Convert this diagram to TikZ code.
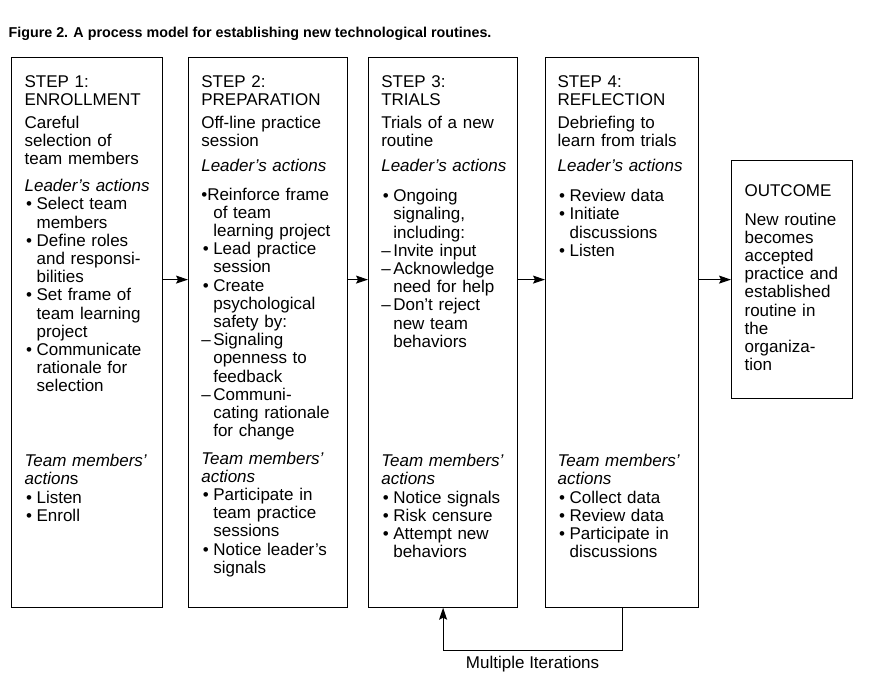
\documentclass[tikz,border=0pt]{standalone}
\usepackage{fontspec}
\setmainfont{Liberation Sans}
\usetikzlibrary{arrows.meta}

\newcommand{\bul}{\makebox[12pt][l]{\hspace{1.5pt}\textbullet}}
\newcommand{\dsh}{\makebox[12pt][l]{\textendash}}
\newcommand{\ind}{\hspace*{12pt}}

\begin{document}
\begin{tikzpicture}[x=1pt, y=-1pt, line width=1.2pt,
  every node/.style={font=\fontsize{17}{18.2}\selectfont, inner sep=0pt},
  stepbox/.style={draw, anchor=north west, minimum height=549.5pt},
  txt/.style={anchor=base west, align=left, text width=#1},
  arr/.style={-{Stealth[length=12pt,width=8pt,inset=2pt]}}]
  \useasboundingbox (0,0) rectangle (887,681);

  \node[anchor=base west, font=\bfseries\fontsize{14.3}{16}\selectfont] (title) at (8,37.3)
    {Figure 2. A process model for establishing new technological routines.};

  % boxes
  \node[stepbox, minimum width=151.3pt] (step1) at (10.7,57) {};
  \node[stepbox, minimum width=159pt] (step2) at (188,57) {};
  \node[stepbox, minimum width=149pt] (step3) at (368,57) {};
  \node[stepbox, minimum width=153pt] (step4) at (545,57) {};
  \node[stepbox, minimum width=121pt, minimum height=238pt] (outcome) at (731,160) {};

  % step 1
  \node[txt=135pt] (s1head) at (24,87.3) {STEP 1:\\ENROLLMENT};
  \node[txt=135pt] (s1desc) at (24,128) {Careful\\selection of\\team members};
  \node[txt=135pt] (s1lead) at (24,191.7) {\textit{Leader’s actions}\\
    \bul Select team\\ \ind members\\ \bul Define roles\\ \ind and responsi-\\ \ind bilities\\
    \bul Set frame of\\ \ind team learning\\ \ind project\\ \bul Communicate\\
    \ind rationale for\\ \ind selection};
  \node[txt=135pt] (s1team) at (24,466.7) {\textit{Team members’}\\ \textit{action}s\\
    \bul Listen\\ \bul Enroll};

  % step 2
  \node[txt=143pt] (s2head) at (200.7,87.3) {STEP 2:\\PREPARATION};
  \node[txt=143pt] (s2desc) at (200.7,128) {Off-line practice\\session};
  \node[txt=143pt] (s2lead) at (200.7,171.7) {\textit{Leader’s actions}};
  \node[txt=143pt] (s2list) at (200.7,200) {\textbullet Reinforce frame\\ \ind of team\\
    \ind learning project\\ \bul Lead practice\\ \ind session\\ \bul Create\\
    \ind psychological\\ \ind safety by:\\ \dsh Signaling\\ \ind openness to\\
    \ind feedback\\ \dsh Communi-\\ \ind cating rationale\\ \ind for change};
  \node[txt=143pt] (s2team) at (200.7,464) {\textit{Team members’}\\ \textit{actions}\\
    \bul Participate in\\ \ind team practice\\ \ind sessions\\ \bul Notice leader’s\\
    \ind signals};

  % step 3
  \node[txt=134pt] (s3head) at (380.7,87.3) {STEP 3:\\TRIALS};
  \node[txt=134pt] (s3desc) at (380.7,128) {Trials of a new\\routine};
  \node[txt=134pt] (s3lead) at (380.7,171.7) {\textit{Leader’s actions}};
  \node[txt=134pt] (s3list) at (380.7,201.7) {\bul Ongoing\\ \ind signaling,\\
    \ind including:\\ \dsh Invite input\\ \dsh Acknowledge\\ \ind need for help\\
    \dsh Don’t reject\\ \ind new team\\ \ind behaviors};
  \node[txt=134pt] (s3team) at (380.7,466.7) {\textit{Team members’}\\ \textit{actions}\\
    \bul Notice signals\\ \bul Risk censure\\ \bul Attempt new\\ \ind behaviors};

  % step 4
  \node[txt=138pt] (s4head) at (557,87.3) {STEP 4:\\REFLECTION};
  \node[txt=138pt] (s4desc) at (557,128) {Debriefing to\\learn from trials};
  \node[txt=138pt] (s4lead) at (557,171.7) {\textit{Leader’s actions}};
  \node[txt=138pt] (s4list) at (557,201.7) {\bul Review data\\ \bul Initiate\\
    \ind discussions\\ \bul Listen};
  \node[txt=138pt] (s4team) at (557,466.7) {\textit{Team members’}\\ \textit{actions}\\
    \bul Collect data\\ \bul Review data\\ \bul Participate in\\ \ind discussions};

  % outcome
  \node[txt=106pt] (ohead) at (744,196.7) {OUTCOME};
  \node[txt=106pt] (otext) at (744,225) {New routine\\becomes\\accepted\\practice and\\
    established\\routine in\\the\\organiza-\\tion};

  % arrows
  \draw[arr] (step1.east |- outcome.west) -- (step2.west |- outcome.west);
  \draw[arr] (step2.east |- outcome.west) -- (step3.west |- outcome.west);
  \draw[arr] (step3.east |- outcome.west) -- (step4.west |- outcome.west);
  \draw[arr] (step4.east |- outcome.west) -- (outcome.west);
  \draw[arr] (step4.south) -- ++(0,43) -| (step3.south)
    node[pos=0.25, below=4.5pt] (iter) {Multiple Iterations};
\end{tikzpicture}
\end{document}
